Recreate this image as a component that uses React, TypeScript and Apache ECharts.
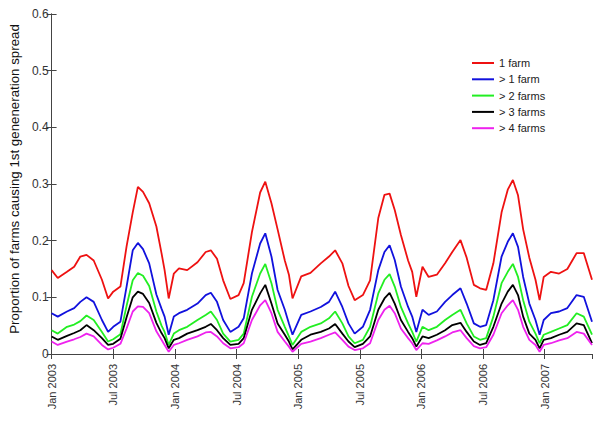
import React, { useEffect, useRef } from "react";
import * as echarts from "echarts";

// months since Jan 2003
const months = [
  0, 0.6, 1.5, 2.2, 2.8, 3.4, 4.1, 4.9, 5.5, 6.0,
  6.7, 7.3, 7.9, 8.4, 8.9, 9.5, 10.2, 10.7, 11.0, 11.4,
  11.9, 12.4, 13.2, 14.2, 15.0, 15.5, 16.1, 16.7, 17.4, 18.2,
  18.7, 19.5, 20.3, 20.8, 21.4, 22.0, 22.7, 23.1, 23.45, 24.3,
  25.2, 26.2, 27.0, 27.6, 28.3, 28.9, 29.5, 30.3, 31.0, 31.8,
  32.4, 32.9, 33.4, 34.0, 34.7, 35.1, 35.5, 36.1, 36.7, 37.5,
  38.3, 39.0, 39.8, 40.4, 41.1, 41.7, 42.3, 43.0, 43.8, 44.4,
  44.9, 45.4, 45.9, 46.5, 47.1, 47.5, 47.9, 48.6, 49.4, 50.2,
  51.1, 51.8, 52.6,
];

const oneFarm = [
  0.148, 0.134, 0.145, 0.154, 0.172, 0.175, 0.165, 0.131, 0.098, 0.110,
  0.119, 0.190, 0.250, 0.295, 0.286, 0.266, 0.225, 0.178, 0.148, 0.098,
  0.142, 0.151, 0.148, 0.162, 0.180, 0.183, 0.168, 0.130, 0.097, 0.104,
  0.125, 0.215, 0.285, 0.304, 0.266, 0.220, 0.165, 0.140, 0.098, 0.137,
  0.143, 0.160, 0.172, 0.183, 0.160, 0.120, 0.095, 0.104, 0.130, 0.240,
  0.281, 0.283, 0.254, 0.210, 0.165, 0.145, 0.101, 0.154, 0.136, 0.140,
  0.160, 0.180, 0.201, 0.170, 0.122, 0.116, 0.113, 0.160, 0.250, 0.290,
  0.307, 0.280, 0.220, 0.170, 0.131, 0.095, 0.136, 0.145, 0.142, 0.150,
  0.178, 0.178, 0.131,
];

const moreThan1 = [
  0.072, 0.066, 0.075, 0.081, 0.092, 0.100, 0.092, 0.060, 0.039, 0.048,
  0.057, 0.119, 0.183, 0.196, 0.185, 0.160, 0.105, 0.080, 0.066, 0.034,
  0.066, 0.072, 0.078, 0.089, 0.104, 0.108, 0.092, 0.060, 0.039, 0.048,
  0.063, 0.142, 0.195, 0.213, 0.172, 0.113, 0.078, 0.054, 0.034, 0.069,
  0.075, 0.083, 0.092, 0.110, 0.083, 0.054, 0.036, 0.048, 0.078, 0.148,
  0.180, 0.192, 0.166, 0.119, 0.083, 0.066, 0.039, 0.078, 0.069, 0.075,
  0.092, 0.104, 0.116, 0.089, 0.054, 0.048, 0.051, 0.095, 0.172, 0.198,
  0.213, 0.189, 0.136, 0.089, 0.060, 0.034, 0.060, 0.072, 0.075, 0.081,
  0.104, 0.101, 0.057,
];

const moreThan2 = [
  0.042, 0.036, 0.048, 0.052, 0.058, 0.068, 0.060, 0.039, 0.022, 0.026,
  0.035, 0.085, 0.130, 0.143, 0.138, 0.120, 0.075, 0.050, 0.039, 0.016,
  0.036, 0.042, 0.048, 0.060, 0.069, 0.075, 0.060, 0.036, 0.022, 0.025,
  0.036, 0.101, 0.142, 0.159, 0.125, 0.078, 0.048, 0.031, 0.016, 0.039,
  0.048, 0.054, 0.063, 0.075, 0.054, 0.031, 0.019, 0.025, 0.048, 0.107,
  0.131, 0.141, 0.119, 0.083, 0.054, 0.039, 0.022, 0.048, 0.042, 0.048,
  0.060, 0.069, 0.078, 0.054, 0.031, 0.025, 0.028, 0.066, 0.125, 0.145,
  0.159, 0.136, 0.095, 0.057, 0.036, 0.019, 0.034, 0.039, 0.045, 0.051,
  0.072, 0.066, 0.034,
];

const moreThan3 = [
  0.031, 0.025, 0.032, 0.037, 0.042, 0.051, 0.042, 0.028, 0.016, 0.018,
  0.027, 0.065, 0.100, 0.110, 0.106, 0.090, 0.055, 0.037, 0.028, 0.010,
  0.025, 0.028, 0.036, 0.042, 0.048, 0.053, 0.042, 0.028, 0.016, 0.018,
  0.028, 0.078, 0.107, 0.122, 0.089, 0.054, 0.034, 0.022, 0.008, 0.025,
  0.034, 0.039, 0.045, 0.053, 0.036, 0.022, 0.012, 0.018, 0.031, 0.078,
  0.098, 0.108, 0.089, 0.060, 0.039, 0.028, 0.013, 0.031, 0.028, 0.034,
  0.042, 0.051, 0.055, 0.039, 0.022, 0.016, 0.019, 0.048, 0.089, 0.110,
  0.122, 0.104, 0.066, 0.036, 0.025, 0.010, 0.025, 0.028, 0.034, 0.039,
  0.054, 0.051, 0.019,
];

const moreThan4 = [
  0.022, 0.016, 0.022, 0.026, 0.030, 0.036, 0.031, 0.016, 0.008, 0.011,
  0.018, 0.045, 0.075, 0.084, 0.083, 0.072, 0.040, 0.025, 0.016, 0.004,
  0.016, 0.019, 0.025, 0.031, 0.038, 0.039, 0.031, 0.019, 0.010, 0.012,
  0.019, 0.060, 0.086, 0.095, 0.072, 0.039, 0.022, 0.013, 0.004, 0.018,
  0.022, 0.028, 0.034, 0.038, 0.025, 0.013, 0.007, 0.010, 0.019, 0.060,
  0.078, 0.085, 0.072, 0.045, 0.028, 0.019, 0.007, 0.019, 0.018, 0.024,
  0.031, 0.038, 0.042, 0.028, 0.014, 0.010, 0.012, 0.034, 0.072, 0.086,
  0.095, 0.078, 0.048, 0.025, 0.016, 0.004, 0.016, 0.019, 0.024, 0.028,
  0.039, 0.036, 0.016,
];

const seriesNames = ["1 farm", "> 1 farm", "> 2 farms", "> 3 farms", "> 4 farms"];
const seriesColors = ["#ee1111", "#1111dd", "#22ee22", "#000000", "#ee22ee"];
const seriesValues = [oneFarm, moreThan1, moreThan2, moreThan3, moreThan4];

const yTitle = "Proportion of farms causing 1st geneneration spread";

function xLabel(v: number): string {
  if (Math.abs(v - Math.round(v)) > 1e-6 || Math.round(v) % 6 !== 0) return "";
  const m = Math.round(v);
  return (m % 12 === 0 ? "Jan " : "Jul ") + (2003 + Math.floor(m / 12));
}

export default function App() {
  const ref = useRef<HTMLDivElement>(null);
  useEffect(() => {
    if (!ref.current) return;
    const chart = echarts.init(ref.current, null, { renderer: "svg" });
    const font = "'Liberation Sans', Arial, sans-serif";
    const axisLine = { show: true, lineStyle: { color: "#444", width: 1 } };
    const tick = { show: true, inside: true, length: 5, lineStyle: { color: "#444" } };
    chart.setOption({
      animation: false,
      backgroundColor: "#ffffff",
      textStyle: { fontFamily: font },
      grid: { left: 44, right: 8, top: 14, bottom: 67 },
      legend: {
        orient: "vertical",
        left: 467,
        top: 51,
        icon: "rect",
        itemWidth: 22,
        itemHeight: 2,
        itemGap: 2.3,
        textStyle: { fontSize: 11, color: "#222", fontFamily: font, lineHeight: 14 },
        data: seriesNames,
      },
      xAxis: [
        {
          type: "value",
          min: 0,
          max: 52.6,
          interval: 6,
          axisLine,
          axisTick: tick,
          axisLabel: {
            rotate: 90,
            margin: 10,
            fontSize: 11,
            color: "#333",
            showMaxLabel: false,
            formatter: xLabel,
          },
          splitLine: { show: false },
        },
        {
          type: "value",
          position: "top",
          min: 0,
          max: 52.6,
          interval: 6,
          axisLine,
          axisTick: tick,
          axisLabel: { show: false },
          splitLine: { show: false },
        },
      ],
      yAxis: [
        {
          type: "value",
          min: 0,
          max: 0.6,
          interval: 0.1,
          axisLine,
          axisTick: tick,
          axisLabel: { margin: 3, fontSize: 12, color: "#333" },
          splitLine: { show: false },
          name: yTitle,
          nameLocation: "middle",
          nameRotate: 90,
          nameGap: 27,
          nameTextStyle: { fontSize: 13.3, color: "#111", fontFamily: font, padding: [0, 0, 0, 10] },
        },
        {
          type: "value",
          position: "right",
          min: 0,
          max: 0.6,
          interval: 0.1,
          axisLine,
          axisTick: tick,
          axisLabel: { show: false },
          splitLine: { show: false },
        },
      ],
      series: seriesNames.map((name, i) => ({
        name,
        type: "line",
        symbol: "none",
        color: seriesColors[i],
        lineStyle: { width: 1.8, color: seriesColors[i] },
        data: months.map((m, j) => [m, seriesValues[i][j]]),
      })),
    });
    return () => chart.dispose();
  }, []);
  return <div ref={ref} style={{ width: 600, height: 421, position: "absolute", left: 0, top: 0 }} />;
}
